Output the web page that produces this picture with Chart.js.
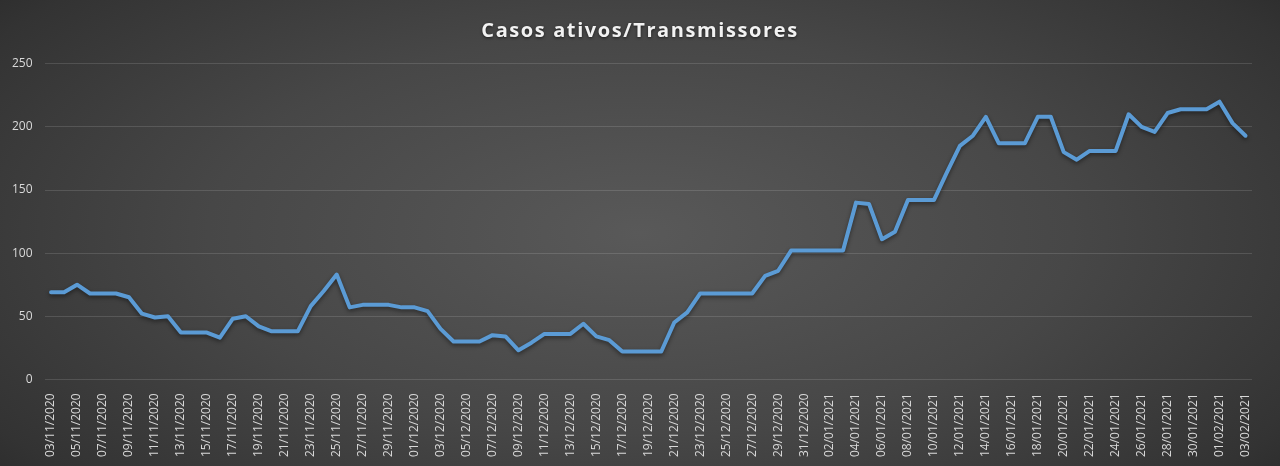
<!DOCTYPE html>
<html>
<head>
<meta charset="utf-8">
<script src="https://cdn.jsdelivr.net/npm/chart.js@4/dist/chart.umd.min.js"></script>
<style>
  html, body { margin: 0; padding: 0; background: #2a2a2a; }
  #wrap {
    width: 1280px; height: 466px; position: relative;
    background: radial-gradient(ellipse 75% 95% at 50% 50%, #595959 0%, #474747 45%, #333 80%, #222 100%);
  }
</style>
</head>
<body>
<div id="wrap"><canvas id="grafico" width="1280" height="466"></canvas></div>
<script>
// datas diárias de 03/11/2020 a 03/02/2021
const rotulos = [];
const inicio = new Date(2020, 10, 3);
for (let d = 0; d < 93; d++) {
    const dt = new Date(inicio.getFullYear(), inicio.getMonth(), inicio.getDate() + d);
    const dia = String(dt.getDate()).padStart(2, '0');
    const mes = String(dt.getMonth() + 1).padStart(2, '0');
    rotulos.push(`${dia}/${mes}/${dt.getFullYear()}`);
}

// casos ativos
const casosNov = [69, 69, 75, 68, 68, 68, 65, 52, 49, 50, 37, 37, 37, 33, 48, 50, 42, 38, 38, 38,
                  58, 70, 83, 57, 59, 59, 59, 57];
const casosDez = [57, 54, 40, 30, 30, 30, 35, 34, 23, 29, 36, 36, 36, 44, 34, 31, 22, 22, 22, 22,
                  45, 53, 68, 68, 68, 68, 68, 82, 86, 102, 102];
const casosJan = [102, 102, 102, 140, 139, 111, 117, 142, 142, 142, 164, 185, 193, 208, 187, 187,
                  187, 208, 208, 180, 174, 181, 181, 181, 210, 200, 196, 211, 214, 214, 214];
const casosFev = [220, 203, 193];
const casos = [...casosNov, ...casosDez, ...casosJan, ...casosFev];

const titulo = 'Casos ativos/Transmissores';
const corTexto = '#d9d9d9';
const corGrade = 'rgba(255,255,255,0.13)';

// sombra suave por baixo da linha
const sombraLinha = {
    id: 'sombraLinha',
    beforeDatasetDraw(chart) {
        const ctx = chart.ctx;
        ctx.save();
        ctx.shadowColor = 'rgba(0,0,0,0.45)';
        ctx.shadowBlur = 4;
        ctx.shadowOffsetY = 2;
    },
    afterDatasetDraw(chart) {
        chart.ctx.restore();
    }
};

// título com espaçamento entre letras e sombra (o do Chart.js fica invisível, só reserva espaço)
const tituloEspacado = {
    id: 'tituloEspacado',
    afterDraw(chart) {
        const ctx = chart.ctx;
        ctx.save();
        ctx.font = 'bold 20px "Open Sans"';
        ctx.letterSpacing = '1.6px';
        ctx.fillStyle = '#f2f2f2';
        ctx.textAlign = 'center';
        ctx.textBaseline = 'middle';
        ctx.shadowColor = 'rgba(0,0,0,0.6)';
        ctx.shadowBlur = 3;
        ctx.shadowOffsetY = 1;
        ctx.fillText(titulo, 640, 31);
        ctx.restore();
    }
};

new Chart(document.getElementById('grafico'), {
    type: 'line',
    data: {
        labels: rotulos,
        datasets: [{
            label: titulo,
            data: casos,
            borderColor: '#5b9bd5',
            borderWidth: 4,
            pointRadius: 0,
            tension: 0,
            borderJoinStyle: 'round',
            borderCapStyle: 'round'
        }]
    },
    options: {
        responsive: false,
        animation: false,
        layout: { padding: { left: 0, right: 28, top: 0, bottom: 3 } },
        plugins: {
            legend: { display: false },
            tooltip: { enabled: false },
            title: {
                display: true,
                text: titulo,
                color: 'rgba(0,0,0,0)',
                font: { family: 'Open Sans', size: 19, weight: 'bold' },
                padding: { top: 14, bottom: 27 }
            }
        },
        scales: {
            x: {
                offset: true,
                grid: { display: false },
                border: { display: false },
                ticks: {
                    color: corTexto,
                    font: { family: 'Open Sans', size: 12 },
                    autoSkip: false,
                    maxRotation: 90,
                    minRotation: 90,
                    padding: 6,
                    callback: function (v, i) { return i % 2 === 0 ? rotulos[i] : ''; }
                }
            },
            y: {
                min: 0,
                max: 250,
                ticks: {
                    stepSize: 50,
                    color: corTexto,
                    font: { family: 'Open Sans', size: 12 },
                    padding: 12
                },
                grid: { color: corGrade, drawTicks: false, lineWidth: 1 },
                border: { display: false }
            }
        }
    },
    plugins: [sombraLinha, tituloEspacado]
});
</script>
</body>
</html>
